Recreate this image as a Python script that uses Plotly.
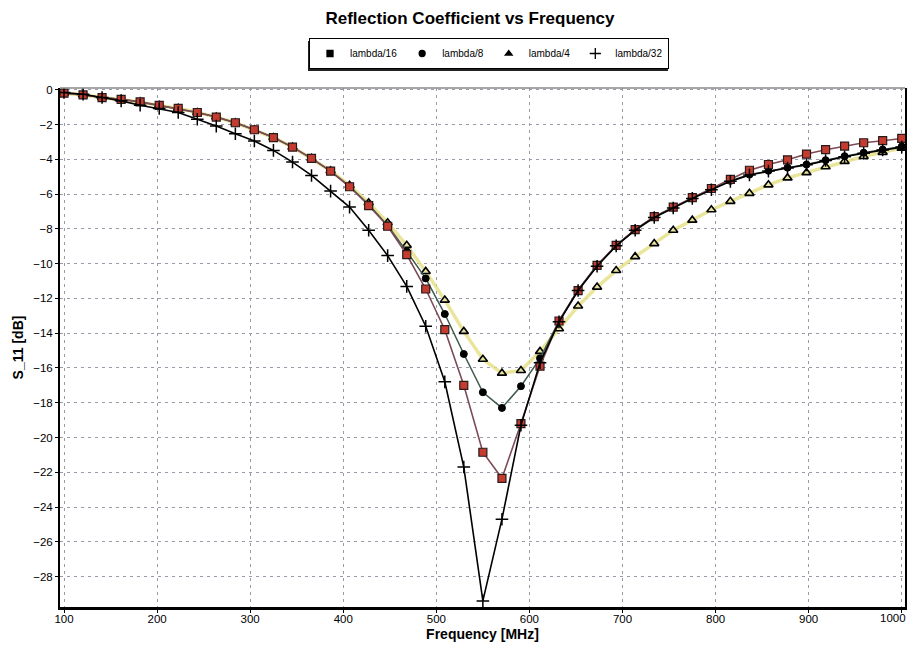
import plotly.graph_objects as go

freq_mhz = [100.0, 120.5, 140.9, 161.4, 181.8, 202.3, 222.7, 243.2, 263.6, 284.1,
            304.5, 325.0, 345.5, 365.9, 386.4, 406.8, 427.3, 447.7, 468.2, 488.6,
            509.1, 529.5, 550.0, 570.5, 590.9, 611.4, 631.8, 652.3, 672.7, 693.2,
            713.6, 734.1, 754.5, 775.0, 795.5, 815.9, 836.4, 856.8, 877.3, 897.7,
            918.2, 938.6, 959.1, 979.5, 1000.0]

s11_lambda16 = [-0.2, -0.3, -0.45, -0.55, -0.7, -0.9, -1.07, -1.31, -1.57, -1.9,
                -2.3, -2.75, -3.3, -3.95, -4.68, -5.58, -6.66, -7.85, -9.48, -11.46,
                -13.8, -17.0, -20.85, -22.35, -19.2, -15.9, -13.3, -11.55, -10.1, -8.95,
                -8.05, -7.3, -6.75, -6.2, -5.68, -5.15, -4.63, -4.3, -4.03, -3.7,
                -3.45, -3.24, -3.05, -2.93, -2.8]

s11_lambda8 = [-0.2, -0.3, -0.45, -0.55, -0.7, -0.9, -1.07, -1.31, -1.57, -1.9,
               -2.3, -2.75, -3.3, -3.95, -4.68, -5.56, -6.6, -7.8, -9.3, -10.85,
               -12.9, -15.2, -17.4, -18.3, -17.05, -15.45, -13.3, -11.5, -10.1, -8.95,
               -8.05, -7.32, -6.78, -6.22, -5.72, -5.24, -4.88, -4.66, -4.48, -4.3,
               -4.05, -3.82, -3.62, -3.44, -3.26]

s11_lambda4 = [-0.2, -0.3, -0.45, -0.55, -0.7, -0.9, -1.07, -1.31, -1.57, -1.9,
               -2.3, -2.75, -3.3, -3.95, -4.66, -5.5, -6.5, -7.65, -8.95, -10.45,
               -12.1, -13.9, -15.5, -16.3, -16.15, -15.05, -13.75, -12.44, -11.35, -10.4,
               -9.6, -8.85, -8.08, -7.5, -6.9, -6.42, -5.96, -5.47, -5.07, -4.77,
               -4.43, -4.12, -3.84, -3.6, -3.36]

s11_lambda32 = [-0.16, -0.26, -0.45, -0.64, -0.89, -1.08, -1.31, -1.7, -2.09, -2.53,
                -2.95, -3.49, -4.16, -4.93, -5.83, -6.75, -8.08, -9.54, -11.31, -13.6,
                -16.8, -21.7, -29.4, -24.7, -19.3, -15.7, -13.35, -11.55, -10.15, -8.98,
                -8.08, -7.35, -6.8, -6.25, -5.75, -5.27, -4.9, -4.68, -4.5, -4.32,
                -4.07, -3.85, -3.65, -3.47, -3.3]

series_names = ["lambda/16", "lambda/8", "lambda/4", "lambda/32"]
y_tick_vals = [0, -2, -4, -6, -8, -10, -12, -14, -16, -18, -20, -22, -24, -26, -28]
x_tick_vals = [100, 200, 300, 400, 500, 600, 700, 800, 900, 1000]

FONT = "Liberation Sans"

fig = go.Figure()

# lambda/4 : open triangles on a pale yellow line
fig.add_trace(go.Scatter(
    x=freq_mhz, y=s11_lambda4, mode="lines+markers", showlegend=False,
    line=dict(color="rgba(228,224,130,0.8)", width=3.5),
    marker=dict(symbol="triangle-up-open", size=8, color="black",
                line=dict(color="black", width=1.6)),
))
# lambda/8 : filled black circles
fig.add_trace(go.Scatter(
    x=freq_mhz, y=s11_lambda8, mode="lines+markers", showlegend=False,
    line=dict(color="#3f5a4a", width=1.5),
    marker=dict(symbol="circle", size=7, color="black",
                line=dict(color="black", width=1)),
))
# lambda/16 : red squares
fig.add_trace(go.Scatter(
    x=freq_mhz, y=s11_lambda16, mode="lines+markers", showlegend=False,
    line=dict(color="#7d4a55", width=1.6),
    marker=dict(symbol="square", size=8, color="#c43c30",
                line=dict(color="#2a1a1a", width=1.2)),
))
# lambda/32 : black plus markers
fig.add_trace(go.Scatter(
    x=freq_mhz, y=s11_lambda32, mode="lines+markers", showlegend=False,
    line=dict(color="black", width=1.6),
    marker=dict(symbol="cross-thin-open", size=9, color="black",
                line=dict(color="black", width=1.5)),
))

# legend-only entries (symbols only, as in the original legend)
legend_symbols = ["square", "circle", "triangle-up", "cross-thin-open"]
legend_sizes = [6, 6, 6, 8]
for name, sym, sz in zip(series_names, legend_symbols, legend_sizes):
    fig.add_trace(go.Scatter(
        x=[None], y=[None], mode="markers", name=name,
        marker=dict(symbol=sym, size=sz, color="black",
                    line=dict(color="black", width=1.3)),
    ))

# the page adds an 8px body margin, so the layout is offset by it
fig.update_layout(
    width=917, height=643,
    margin=dict(l=52, r=20, t=80, b=44, autoexpand=False),
    paper_bgcolor="white", plot_bgcolor="white",
    font=dict(family=FONT, size=12, color="black"),
    title=dict(text="<b>Reflection Coefficient vs Frequency</b>",
               x=462 / 917, xanchor="center", y=0.9844, yanchor="middle",
               font=dict(family=FONT, size=17, color="black")),
    legend=dict(orientation="h", x=0.5077, xanchor="center", y=1.0963, yanchor="top",
                bgcolor="white", bordercolor="black", borderwidth=1,
                font=dict(family=FONT, size=10, color="black"),
                itemwidth=30, tracegroupgap=0),
    showlegend=True,
)

# last tick label is drawn right-aligned so it is not cut at the window edge
x_tick_text = [str(v) for v in x_tick_vals[:-1]] + [""]

fig.update_xaxes(
    range=[95.7, 1003.5], tickvals=x_tick_vals, ticktext=x_tick_text,
    automargin=False, ticklabeloverflow="allow",
    showgrid=True, gridcolor="#9a9aa8", griddash="3px,4px", gridwidth=1,
    showline=True, linecolor="black", linewidth=2.5, mirror=False,
    ticks="outside", ticklen=3, tickcolor="black", ticklabelstandoff=-4,
    tickfont=dict(family=FONT, size=11.5),
    zeroline=False,
    title=dict(text="<b>Frequency [MHz]</b>", standoff=6,
               font=dict(family=FONT, size=14)),
)
fig.add_annotation(
    text=str(x_tick_vals[-1]), xref="paper", yref="paper",
    x=1 + 3 / 845, y=0, xanchor="right", yanchor="middle", yshift=-11,
    showarrow=False, font=dict(family=FONT, size=11.5, color="black"),
)
fig.update_yaxes(
    range=[-29.75, 0.1], tickvals=y_tick_vals, automargin=False,
    showgrid=True, gridcolor="#9a9aa8", griddash="3px,4px", gridwidth=1,
    showline=True, linecolor="black", linewidth=2, mirror=True,
    ticks="outside", ticklen=3, tickcolor="black",
    tickfont=dict(family=FONT, size=11.5),
    zeroline=False,
    title=dict(text="<b>S_11 [dB]</b>", standoff=6,
               font=dict(family=FONT, size=14)),
)

# light top border of the plot frame
fig.add_shape(type="line", xref="paper", yref="paper", x0=0, x1=1, y0=1, y1=1,
              line=dict(color="#8a8a8a", width=1.5))
# legend drop shadow
fig.add_shape(type="rect", xref="paper", yref="paper",
              x0=0.2935, x1=0.7195, y0=1.0328, y1=1.0906,
              line=dict(width=0), fillcolor="#222222", layer="below")

fig.write_html("out.html")
